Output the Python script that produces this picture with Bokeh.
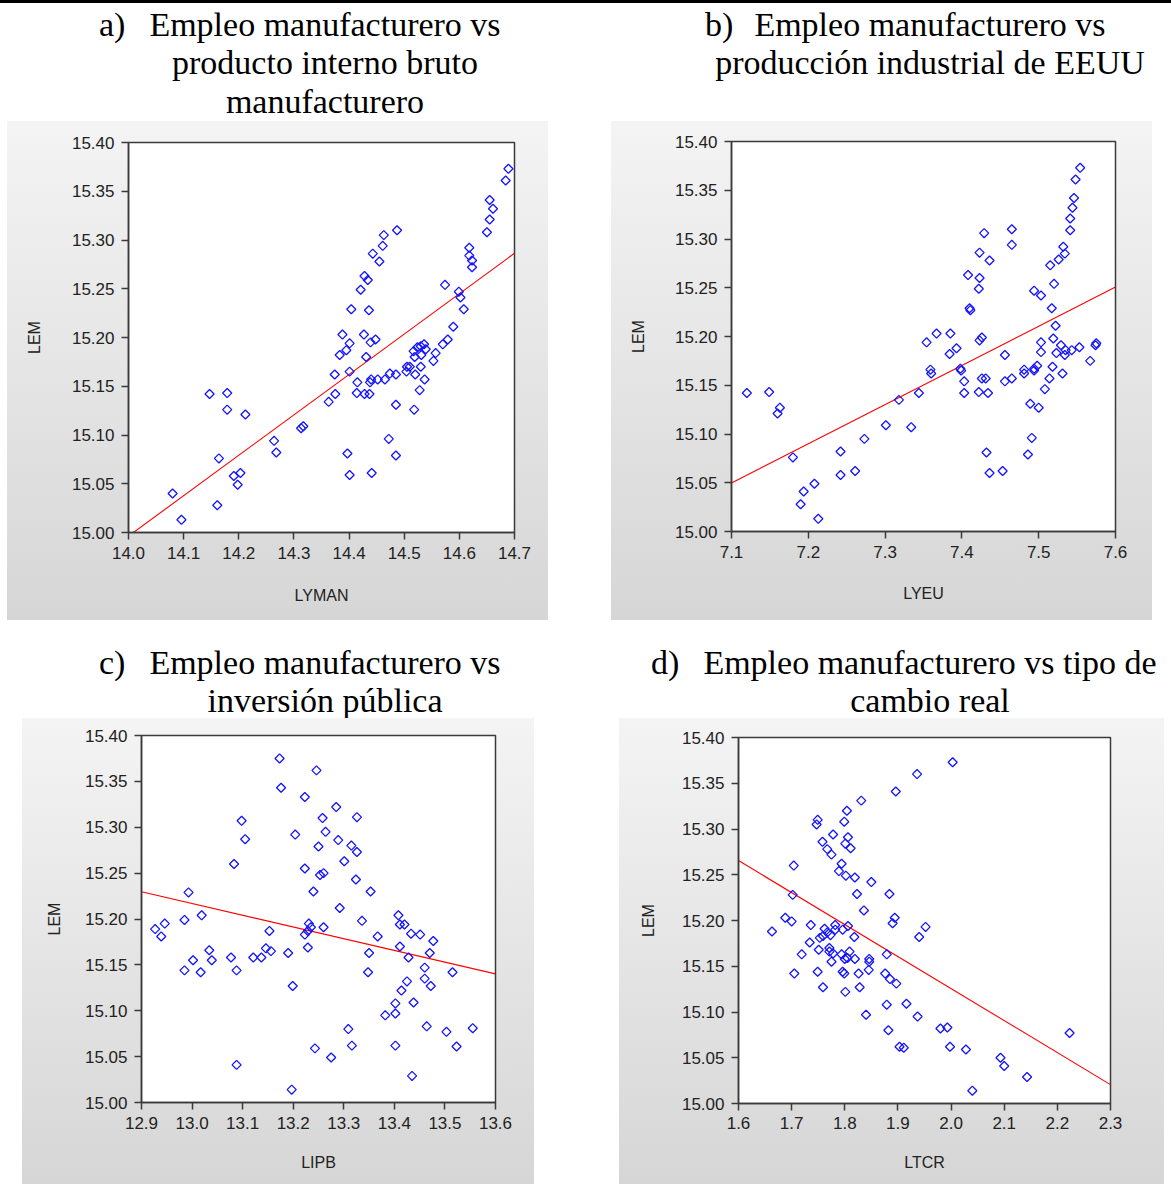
import numpy as np
from bokeh.plotting import figure
from bokeh.models import Div, Spacer, Range1d, FixedTicker, PrintfTickFormatter
from bokeh.layouts import row, column
from bokeh.embed import file_html
from bokeh.resources import INLINE

# ---------------- data ----------------
lyman = [14.080, 14.096, 14.147, 14.179, 14.179, 14.212, 14.164, 14.264, 14.268, 14.191,
         14.203, 14.198, 14.161, 14.313, 14.317, 14.374, 14.401, 14.415, 14.414, 14.428,
         14.437, 14.438, 14.440, 14.452, 14.465, 14.474, 14.485, 14.504, 14.520, 14.537,
         14.528, 14.363, 14.375, 14.485, 14.518, 14.472, 14.397, 14.485, 14.401, 14.441,
         14.689, 14.684, 14.655, 14.661, 14.655, 14.650, 14.618, 14.618, 14.623, 14.623,
         14.574, 14.599, 14.602, 14.608, 14.589, 14.579, 14.570, 14.557, 14.553, 14.530,
         14.524, 14.530, 14.536, 14.539, 14.517, 14.531, 14.519, 14.505, 14.510, 14.487,
         14.463, 14.461, 14.443, 14.455, 14.428, 14.434, 14.421, 14.404, 14.436, 14.388,
         14.427, 14.401, 14.395, 14.383, 14.439, 14.448, 14.431]
lem_a = [15.040, 15.013, 15.142, 15.143, 15.126, 15.121, 15.076, 15.094, 15.082, 15.058,
         15.061, 15.049, 15.028, 15.107, 15.109, 15.162, 15.165, 15.154, 15.143, 15.142,
         15.142, 15.154, 15.157, 15.157, 15.157, 15.163, 15.162, 15.165, 15.162, 15.157,
         15.146, 15.134, 15.142, 15.131, 15.126, 15.096, 15.081, 15.079, 15.059, 15.061,
         15.373, 15.361, 15.341, 15.332, 15.321, 15.308, 15.292, 15.284, 15.279, 15.272,
         15.254, 15.247, 15.241, 15.229, 15.211, 15.198, 15.193, 15.184, 15.176, 15.170,
         15.190, 15.191, 15.193, 15.188, 15.186, 15.182, 15.180, 15.170, 15.170, 15.310,
         15.305, 15.294, 15.286, 15.278, 15.263, 15.259, 15.249, 15.229, 15.228, 15.203,
         15.203, 15.194, 15.187, 15.182, 15.195, 15.198, 15.180]

lyeu = [7.120, 7.149, 7.163, 7.160, 7.180, 7.242, 7.273, 7.301, 7.318, 7.242,
        7.261, 7.208, 7.194, 7.190, 7.213, 7.334, 7.344, 7.360, 7.399, 7.403,
        7.403, 7.422, 7.434, 7.426, 7.431, 7.456, 7.465, 7.481, 7.494, 7.514,
        7.531, 7.508, 7.489, 7.500, 7.491, 7.432, 7.486, 7.436, 7.453, 7.554,
        7.548, 7.546, 7.544, 7.541, 7.541, 7.532, 7.534, 7.526, 7.515, 7.520,
        7.494, 7.503, 7.517, 7.522, 7.519, 7.503, 7.503, 7.523, 7.529, 7.535,
        7.534, 7.543, 7.553, 7.575, 7.574, 7.567, 7.465, 7.465, 7.429, 7.423,
        7.436, 7.408, 7.423, 7.422, 7.410, 7.411, 7.426, 7.423, 7.385, 7.367,
        7.354, 7.393, 7.384, 7.456, 7.359, 7.398, 7.481, 7.498, 7.494, 7.518]
lem_b = [15.142, 15.143, 15.127, 15.121, 15.076, 15.082, 15.095, 15.109, 15.135, 15.058,
         15.062, 15.049, 15.041, 15.028, 15.013, 15.107, 15.142, 15.162, 15.165, 15.154,
         15.142, 15.143, 15.142, 15.157, 15.157, 15.154, 15.157, 15.162, 15.165, 15.157,
         15.162, 15.146, 15.131, 15.127, 15.096, 15.081, 15.079, 15.060, 15.062, 15.373,
         15.361, 15.342, 15.332, 15.321, 15.309, 15.292, 15.285, 15.279, 15.273, 15.254,
         15.247, 15.242, 15.229, 15.211, 15.198, 15.194, 15.184, 15.183, 15.191, 15.186,
         15.181, 15.186, 15.189, 15.193, 15.191, 15.175, 15.310, 15.294, 15.306, 15.286,
         15.278, 15.263, 15.260, 15.249, 15.229, 15.227, 15.199, 15.196, 15.203, 15.203,
         15.194, 15.188, 15.182, 15.181, 15.166, 15.167, 15.166, 15.170, 15.167, 15.169]

lipb = [13.173, 13.246, 13.176, 13.223, 13.285, 13.326, 13.258, 13.098, 13.264, 13.204,
        13.105, 13.289, 13.315, 13.326, 13.250, 13.301, 13.083, 13.223, 13.253, 13.260,
        13.324, 13.240, 13.353, 12.993, 13.292, 13.019, 12.985, 12.946, 12.927, 12.939,
        13.336, 13.231, 13.235, 13.223, 13.229, 13.260, 13.367, 13.153, 13.229, 13.190,
        13.146, 13.156, 13.121, 13.137, 13.077, 13.034, 13.039, 13.002, 12.985, 13.017,
        13.088, 13.350, 13.348, 13.199, 13.408, 13.411, 13.420, 13.433, 13.451, 13.477,
        13.411, 13.470, 13.428, 13.460, 13.515, 13.460, 13.472, 13.425, 13.414, 13.402,
        13.438, 13.382, 13.402, 13.464, 13.503, 13.555, 13.523, 13.402, 13.309, 13.316,
        13.243, 13.275, 13.435, 13.088, 13.197]
lem_c = [15.375, 15.362, 15.343, 15.333, 15.322, 15.311, 15.310, 15.307, 15.295, 15.292,
         15.287, 15.286, 15.280, 15.273, 15.279, 15.263, 15.260, 15.255, 15.248, 15.250,
         15.243, 15.230, 15.230, 15.229, 15.212, 15.204, 15.199, 15.195, 15.189, 15.181,
         15.198, 15.195, 15.191, 15.183, 15.187, 15.191, 15.181, 15.187, 15.169, 15.163,
         15.168, 15.165, 15.158, 15.158, 15.158, 15.166, 15.155, 15.155, 15.144, 15.142,
         15.144, 15.163, 15.142, 15.127, 15.204, 15.194, 15.194, 15.184, 15.183, 15.176,
         15.170, 15.163, 15.158, 15.147, 15.142, 15.135, 15.127, 15.132, 15.122, 15.108,
         15.109, 15.095, 15.097, 15.083, 15.077, 15.081, 15.061, 15.062, 15.080, 15.062,
         15.059, 15.049, 15.029, 15.041, 15.014]

ltcr = [2.003, 1.936, 1.896, 1.831, 1.804, 1.799, 1.749, 1.747, 1.778, 1.806,
        1.758, 1.801, 1.811, 1.767, 1.775, 1.794, 1.704, 1.789, 1.802, 1.819,
        1.850, 1.823, 1.702, 1.884, 1.836, 1.894, 1.890, 1.952, 1.940, 1.688,
        1.700, 1.736, 1.663, 1.762, 1.782, 1.782, 1.796, 1.806, 1.767, 1.753,
        1.773, 1.759, 1.818, 1.734, 1.751, 1.771, 1.771, 1.778, 1.719, 1.794,
        1.809, 1.800, 1.805, 1.819, 1.775, 1.846, 1.846, 1.879, 1.845, 1.705,
        1.749, 1.796, 1.799, 1.826, 1.876, 1.885, 1.897, 1.759, 1.828, 1.801,
        1.879, 1.916, 1.840, 1.937, 1.882, 1.980, 1.993, 1.903, 1.911, 1.998,
        2.028, 2.093, 2.100, 2.143, 2.040, 2.223]
lem_d = [15.373, 15.360, 15.341, 15.331, 15.320, 15.308, 15.310, 15.305, 15.294, 15.291,
         15.286, 15.284, 15.279, 15.278, 15.272, 15.262, 15.260, 15.254, 15.249, 15.247,
         15.242, 15.229, 15.228, 15.229, 15.211, 15.203, 15.197, 15.193, 15.182, 15.203,
         15.199, 15.195, 15.188, 15.191, 15.195, 15.190, 15.190, 15.194, 15.187, 15.181,
         15.184, 15.183, 15.182, 15.176, 15.168, 15.170, 15.166, 15.164, 15.163, 15.163,
         15.166, 15.158, 15.159, 15.158, 15.155, 15.158, 15.155, 15.163, 15.146, 15.142,
         15.144, 15.144, 15.142, 15.142, 15.142, 15.136, 15.131, 15.127, 15.127, 15.122,
         15.108, 15.109, 15.097, 15.095, 15.080, 15.082, 15.083, 15.062, 15.061, 15.062,
         15.059, 15.050, 15.041, 15.029, 15.014, 15.077]

yticks = [15.00, 15.05, 15.10, 15.15, 15.20, 15.25, 15.30, 15.35, 15.40]
xticks_a = [14.0, 14.1, 14.2, 14.3, 14.4, 14.5, 14.6, 14.7]
xticks_b = [7.1, 7.2, 7.3, 7.4, 7.5, 7.6]
xticks_c = [12.9, 13.0, 13.1, 13.2, 13.3, 13.4, 13.5, 13.6]
xticks_d = [1.6, 1.7, 1.8, 1.9, 2.0, 2.1, 2.2, 2.3]

ylabel = "LEM"
xlabels = ["LYMAN", "LYEU", "LIPB", "LTCR"]

titles = {
    "a": ["Empleo manufacturero vs", "producto interno bruto", "manufacturero"],
    "b": ["Empleo manufacturero vs", "producción industrial de EEUU"],
    "c": ["Empleo manufacturero vs", "inversión pública"],
    "d": ["Empleo manufacturero vs tipo de", "cambio real"],
}

TICK_FONT = "Liberation Sans"
AX_COL = "#3a3a3a"


def make_panel(xv, yv, xticks, xlabel, width, height, bl, br, bt, bb,
               ylab_so, xlab_so, xmaj_so, ymaj_so=7):
    p = figure(width=width, height=height,
               x_range=Range1d(xticks[0], xticks[-1]),
               y_range=Range1d(yticks[0], yticks[-1]),
               output_backend="svg", toolbar_location=None,
               min_border_left=bl, min_border_right=br,
               min_border_top=bt, min_border_bottom=bb)
    p.border_fill_color = None
    p.background_fill_color = "white"
    p.outline_line_color = AX_COL
    p.outline_line_width = 1.5
    p.grid.visible = False
    p.styles = {"background": "linear-gradient(180deg, #f4f4f4 0%, #d6d6d6 100%)"}

    for ax, ticks, fmt, so in ((p.xaxis[0], xticks, "%.1f", xmaj_so),
                               (p.yaxis[0], yticks, "%.2f", ymaj_so)):
        ax.ticker = FixedTicker(ticks=ticks)
        ax.formatter = PrintfTickFormatter(format=fmt)
        ax.major_tick_in = 0
        ax.major_tick_out = 7
        ax.minor_tick_line_color = None
        ax.major_tick_line_color = AX_COL
        ax.major_tick_line_width = 1.5
        ax.axis_line_color = AX_COL
        ax.axis_line_width = 1.5
        ax.major_label_text_font = TICK_FONT
        ax.major_label_text_font_size = "17px"
        ax.major_label_text_color = "#222222"
        ax.major_label_standoff = so
        ax.axis_label_text_font = TICK_FONT
        ax.axis_label_text_font_size = "16px"
        ax.axis_label_text_font_style = "normal"
        ax.axis_label_text_color = "#222222"
    p.yaxis.axis_label = ylabel
    p.xaxis.axis_label = xlabel
    p.yaxis.axis_label_standoff = ylab_so
    p.xaxis.axis_label_standoff = xlab_so

    xa = np.asarray(xv, dtype=float)
    ya = np.asarray(yv, dtype=float)
    slope, icpt = np.polyfit(xa, ya, 1)
    lx = np.array([xticks[0], xticks[-1]])
    p.line(lx, icpt + slope * lx, line_color="#ff0000", line_width=1.1)
    p.scatter(xa, ya, marker="square", angle=np.pi / 4, size=6.4,
              fill_color=None, line_color="#1414ff", line_width=1.3)
    return p


def title_div(marker, marker_left, lines, center_x, tops, w, h):
    parts = [f'<div style="position:relative;width:{w}px;height:{h}px;'
             f'font-family:\'Liberation Serif\',serif;font-size:34px;line-height:38px;color:#000;">']
    parts.append(f'<div style="position:absolute;left:{marker_left}px;top:{tops[0]}px;'
                 f'white-space:nowrap">{marker}</div>')
    for line, top in zip(lines, tops):
        parts.append(f'<div style="position:absolute;left:{center_x}px;top:{top}px;'
                     f'transform:translateX(-50%);white-space:nowrap">{line}</div>')
    parts.append('</div>')
    return Div(text="".join(parts), width=w, height=h, margin=0,
               styles={"overflow": "visible"})


pa = make_panel(lyman, lem_a, xticks_a, xlabels[0], 541, 499, 121, 34, 21, 88, 26, 25, 7)
pb = make_panel(lyeu, lem_b, xticks_b, xlabels[1], 541, 499, 120, 37, 20, 89, 25, 24, 7)
pc = make_panel(lipb, lem_c, xticks_c, xlabels[2], 512, 466, 119, 39, 17, 82, 19, 22, 7)
pd_ = make_panel(ltcr, lem_d, xticks_d, xlabels[3], 545, 466, 119, 54, 19, 81, 22, 22, 6)

bar = Div(text="", width=1171, height=3, margin=0, styles={"background": "#000"})

ta = title_div("a)", 99, titles["a"], 325, [2.5, 41, 79.5], 580, 118)
tb = title_div("b)", 125, titles["b"], 350, [2.5, 41], 591, 118)
tc = title_div("c)", 99, titles["c"], 325, [23.5, 61.5], 580, 98)
td = title_div("d)", 71, titles["d"], 350, [23.5, 61.5], 591, 98)

col_a = column(ta, row(Spacer(width=7, height=499), pa))
col_b = column(tb, row(Spacer(width=31, height=499), pb))
col_c = column(tc, row(Spacer(width=22, height=466), pc))
col_d = column(td, row(Spacer(width=39, height=466), pd_))

root = column(bar, row(col_a, col_b), row(col_c, col_d))

open("out.html", "w").write(file_html(root, INLINE))
